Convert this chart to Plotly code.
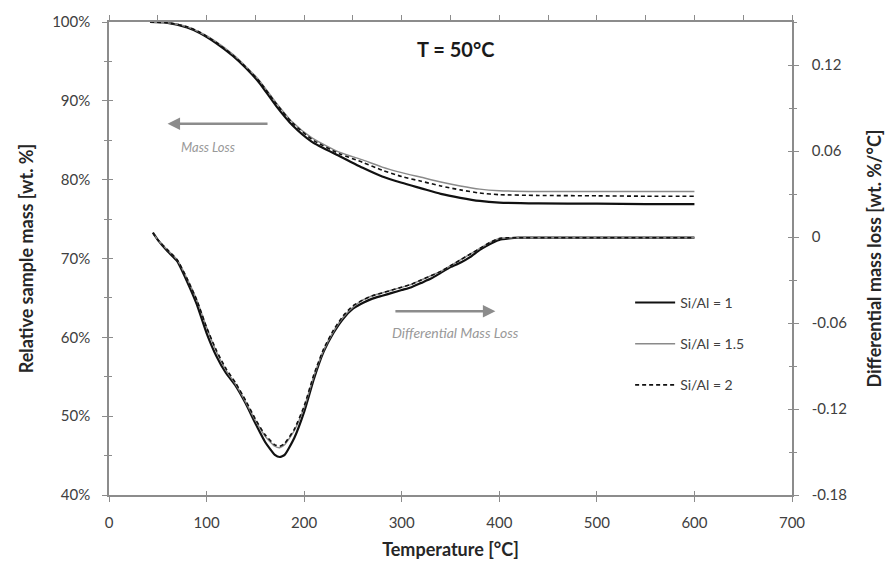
import plotly.graph_objects as go

# ---------------- data ----------------
# Relative sample mass (left axis) [%]
temp_mass = [42, 60, 80, 93, 110, 127, 140, 154, 171, 188, 208, 236, 260, 280, 300, 320, 340, 360, 380, 400, 440, 500, 550, 600]
mass_si1 = [100.0, 99.9, 99.3, 98.6, 97.3, 95.7, 94.2, 92.3, 89.4, 86.9, 84.8, 83.0, 81.5, 80.4, 79.6, 78.9, 78.2, 77.7, 77.3, 77.1, 77.0, 76.95, 76.9, 76.9]
mass_si15 = [100.0, 99.9, 99.4, 98.7, 97.5, 95.9, 94.4, 92.6, 89.8, 87.3, 85.3, 83.5, 82.5, 81.6, 80.9, 80.3, 79.7, 79.2, 78.8, 78.6, 78.5, 78.5, 78.5, 78.5]
mass_si2 = [100.0, 99.9, 99.4, 98.7, 97.4, 95.8, 94.3, 92.5, 89.7, 87.2, 85.1, 83.3, 82.2, 81.2, 80.4, 79.8, 79.2, 78.7, 78.3, 78.1, 78.0, 77.95, 77.9, 77.9]

# Differential mass loss (right axis) [wt. %/°C]
temp_dtg = [45, 50, 60, 70, 80, 90, 100, 110, 120, 130, 140, 150, 160, 170, 175, 180, 190, 200, 210, 220, 230, 240, 250, 260, 270, 280, 290, 300, 310, 320, 330, 340, 350, 360, 370, 380, 390, 400, 410, 420, 450, 500, 550, 600]
dtg_si1 = [0.003, -0.002, -0.010, -0.017, -0.031, -0.047, -0.067, -0.083, -0.095, -0.104, -0.116, -0.130, -0.143, -0.152, -0.1535, -0.152, -0.140, -0.122, -0.099, -0.080, -0.067, -0.057, -0.050, -0.046, -0.043, -0.041, -0.039, -0.037, -0.035, -0.032, -0.029, -0.025, -0.021, -0.018, -0.014, -0.009, -0.005, -0.002, -0.001, -0.0005, -0.0005, -0.0005, -0.0005, -0.0005]
dtg_si15 = [0.003, -0.002, -0.009, -0.016, -0.029, -0.044, -0.063, -0.080, -0.093, -0.103, -0.115, -0.128, -0.139, -0.146, -0.147, -0.145, -0.135, -0.119, -0.097, -0.079, -0.066, -0.056, -0.049, -0.044, -0.041, -0.039, -0.037, -0.035, -0.033, -0.030, -0.027, -0.024, -0.020, -0.016, -0.012, -0.008, -0.004, -0.001, -0.0005, -0.0005, -0.0005, -0.0005, -0.0005, -0.0005]
dtg_si2 = [0.003, -0.002, -0.009, -0.016, -0.029, -0.044, -0.063, -0.079, -0.092, -0.102, -0.114, -0.127, -0.138, -0.145, -0.146, -0.144, -0.134, -0.118, -0.096, -0.078, -0.065, -0.055, -0.048, -0.044, -0.041, -0.039, -0.037, -0.035, -0.033, -0.030, -0.027, -0.024, -0.020, -0.016, -0.012, -0.008, -0.004, -0.001, -0.0005, -0.0005, -0.0005, -0.0005, -0.0005, -0.0005]

series_names = ["Si/Al = 1", "Si/Al = 1.5", "Si/Al = 2"]
x_ticks = [0, 100, 200, 300, 400, 500, 600, 700]
left_ticks = [40, 50, 60, 70, 80, 90, 100]
left_ticktext = ["40%", "50%", "60%", "70%", "80%", "90%", "100%"]
right_ticks = [-0.18, -0.12, -0.06, 0, 0.06, 0.12]
right_ticktext = ["-0.18", "-0.12", "-0.06", "0", "0.06", "0.12"]

# ---------------- styles ----------------
styles = [
    dict(color="#111111", width=2.2, dash="solid"),
    dict(color="#8a8a8a", width=1.4, dash="solid"),
    dict(color="#111111", width=1.6, dash="4px,3px"),
]
FONT = "Lato, 'Open Sans', sans-serif"
AX = "#8c8c8c"
TXT = "#404040"

fig = go.Figure()
mass_sets = [mass_si1, mass_si15, mass_si2]
dtg_sets = [dtg_si1, dtg_si15, dtg_si2]
for i in range(3):
    fig.add_trace(go.Scatter(x=temp_mass, y=mass_sets[i], mode="lines", name=series_names[i],
                             line=dict(shape="spline", smoothing=0.6, **styles[i]),
                             legendgroup=series_names[i], showlegend=True, xaxis="x", yaxis="y"))
for i in range(3):
    fig.add_trace(go.Scatter(x=temp_dtg, y=dtg_sets[i], mode="lines", name=series_names[i],
                             line=dict(shape="spline", smoothing=0.5, **styles[i]),
                             legendgroup=series_names[i], showlegend=False, xaxis="x", yaxis="y2"))

tickfont = dict(family=FONT, size=15, color=TXT)
titlefont = dict(family=FONT, size=18, color="#262626", weight="bold")

fig.update_layout(
    width=894, height=569,
    margin=dict(l=109, r=99, t=19, b=72),
    paper_bgcolor="white", plot_bgcolor="white",
    showlegend=True,
    legend=dict(x=0.763, y=0.44, xanchor="left", yanchor="top",
                font=dict(family=FONT, size=14, color=TXT), tracegroupgap=20,
                bgcolor="rgba(0,0,0,0)", itemwidth=40),
    xaxis=dict(range=[0, 700], tickvals=x_ticks, ticktext=[str(v) for v in x_ticks],
               showgrid=False, zeroline=False, showline=True, linecolor=AX, linewidth=1.5,
               ticks="outside", ticklen=5, tickcolor=AX, tickwidth=1.2, ticklabelstandoff=8,
               tickfont=tickfont, title=dict(text="Temperature [°C]", font=titlefont, standoff=14)),
    xaxis2=dict(range=[0, 700], overlaying="x", side="top", dtick=50, tick0=0,
                showticklabels=False, showgrid=False, zeroline=False, showline=True,
                linecolor=AX, linewidth=1.5, ticks="outside", ticklen=5, tickcolor=AX, tickwidth=1.2),
    xaxis3=dict(range=[0, 700], overlaying="x", side="bottom", tickvals=x_ticks,
                showticklabels=False, showgrid=False, zeroline=False, showline=False,
                ticks="inside", ticklen=4, tickcolor=AX, tickwidth=1.2),
    yaxis=dict(range=[40, 100], tickvals=left_ticks, ticktext=left_ticktext,
               showgrid=False, zeroline=False, showline=True, linecolor=AX, linewidth=1.5,
               ticks="outside", ticklen=5, tickcolor=AX, tickwidth=1.2, ticklabelstandoff=9,
               minor=dict(dtick=5, ticks="outside", ticklen=3, tickcolor=AX),
               tickfont=tickfont,
               title=dict(text="Relative sample mass [wt. %]", font=titlefont, standoff=14)),
    yaxis3=dict(range=[40, 100], overlaying="y", side="left", tickvals=left_ticks,
                showticklabels=False, showgrid=False, zeroline=False, showline=False,
                ticks="inside", ticklen=4, tickcolor=AX, tickwidth=1.2,
                minor=dict(dtick=5, ticks="inside", ticklen=3, tickcolor=AX)),
    yaxis2=dict(range=[-0.18, 0.15], overlaying="y", side="right", tickvals=right_ticks,
                ticktext=right_ticktext, showgrid=False, zeroline=False, showline=True,
                linecolor=AX, linewidth=1.5, ticks="outside", ticklen=5, tickcolor=AX, tickwidth=1.2,
                ticklabelstandoff=10,
                minor=dict(dtick=0.03, tick0=0, ticks="outside", ticklen=3, tickcolor=AX),
                tickfont=tickfont,
                title=dict(text="Differential mass loss [wt. %/°C]", font=titlefont, standoff=22)),
    yaxis4=dict(range=[-0.18, 0.15], overlaying="y", side="right", tickvals=right_ticks,
                showticklabels=False, showgrid=False, zeroline=False, showline=False,
                ticks="inside", ticklen=4, tickcolor=AX, tickwidth=1.2,
                minor=dict(dtick=0.03, tick0=0, ticks="inside", ticklen=3, tickcolor=AX)),
)

# invisible helper traces to activate the tick-only axes
fig.add_trace(go.Scatter(x=[0], y=[40], xaxis="x2", yaxis="y3", mode="markers",
                         marker=dict(opacity=0), showlegend=False, hoverinfo="skip"))
fig.add_trace(go.Scatter(x=[0], y=[0], xaxis="x3", yaxis="y4", mode="markers",
                         marker=dict(opacity=0), showlegend=False, hoverinfo="skip"))

# annotations
fig.add_annotation(x=355, y=96.6, xref="x", yref="y", text="<b>T = 50°C</b>", showarrow=False,
                   font=dict(family=FONT, size=20, color="#1a1a1a"))
fig.add_annotation(x=60, y=87.1, ax=164, ay=87.1, xref="x", yref="y", axref="x", ayref="y",
                   text="", showarrow=True, arrowhead=2, arrowsize=1, arrowwidth=2.5, arrowcolor="#8c8c8c")
fig.add_annotation(x=101, y=84.2, xref="x", yref="y", text="<i>Mass Loss</i>", showarrow=False,
                   font=dict(family=FONT, size=13, color="#999999"))
fig.add_annotation(x=396, y=63.3, ax=292, ay=63.3, xref="x", yref="y", axref="x", ayref="y",
                   text="", showarrow=True, arrowhead=2, arrowsize=1, arrowwidth=2.5, arrowcolor="#8c8c8c")
fig.add_annotation(x=355, y=60.6, xref="x", yref="y", text="<i>Differential Mass Loss</i>", showarrow=False,
                   font=dict(family=FONT, size=14, color="#999999"))

fig.write_html("out.html")
